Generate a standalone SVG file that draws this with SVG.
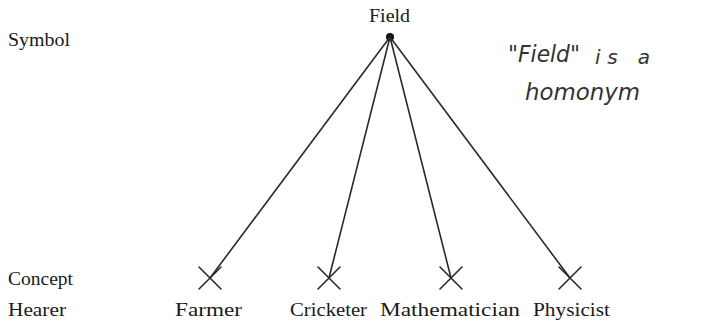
<svg xmlns="http://www.w3.org/2000/svg" width="712" height="323" viewBox="0 0 712 323">
<style>
.t{font-family:"Liberation Serif","Times New Roman",serif;font-size:19px;fill:#1a1a1a}
.h{font-family:"DejaVu Sans","Liberation Sans",sans-serif;font-style:italic;font-size:23px;fill:#333}
.ln{stroke:#2a2a2a;stroke-width:1.6;fill:none;stroke-linecap:round}
</style>
<rect width="712" height="323" fill="#fff"/>
<g id="labels">
<text class="t" x="8" y="46" textLength="62" lengthAdjust="spacingAndGlyphs">Symbol</text>
<text class="t" x="8" y="285" textLength="65" lengthAdjust="spacingAndGlyphs">Concept</text>
<text class="t" x="8" y="316" textLength="58" lengthAdjust="spacingAndGlyphs">Hearer</text>
</g>
<g id="field">
<text class="t" x="369" y="22" textLength="41" lengthAdjust="spacingAndGlyphs">Field</text>
<circle cx="390" cy="37" r="4" fill="#111"/>
</g>
<g id="note">
<text class="h" x="508" y="62" textLength="72" lengthAdjust="spacingAndGlyphs">"Field"</text>
<text class="h" x="595" y="64" style="font-size:20px" textLength="55" lengthAdjust="spacing">is a</text>
<text class="h" x="525" y="100" textLength="115" lengthAdjust="spacingAndGlyphs">homonym</text>
</g>
<g id="connectors">
<line class="ln" x1="390" y1="37" x2="210" y2="278"/>
<line class="ln" x1="390" y1="37" x2="329" y2="278"/>
<line class="ln" x1="390" y1="37" x2="451" y2="278"/>
<line class="ln" x1="390" y1="37" x2="570" y2="278"/>
</g>
<g id="farmer">
<path class="ln" d="M199 267L221 289M221 267L199 289"/>
<text class="t" x="175" y="316" textLength="67" lengthAdjust="spacingAndGlyphs">Farmer</text>
</g>
<g id="cricketer">
<path class="ln" d="M318 267L340 289M340 267L318 289"/>
<text class="t" x="290" y="316" textLength="77" lengthAdjust="spacingAndGlyphs">Cricketer</text>
</g>
<g id="mathematician">
<path class="ln" d="M440 267L462 289M462 267L440 289"/>
<text class="t" x="380" y="316" textLength="140" lengthAdjust="spacingAndGlyphs">Mathematician</text>
</g>
<g id="physicist">
<path class="ln" d="M559 267L581 289M581 267L559 289"/>
<text class="t" x="533" y="316" textLength="77" lengthAdjust="spacingAndGlyphs">Physicist</text>
</g>
</svg>
